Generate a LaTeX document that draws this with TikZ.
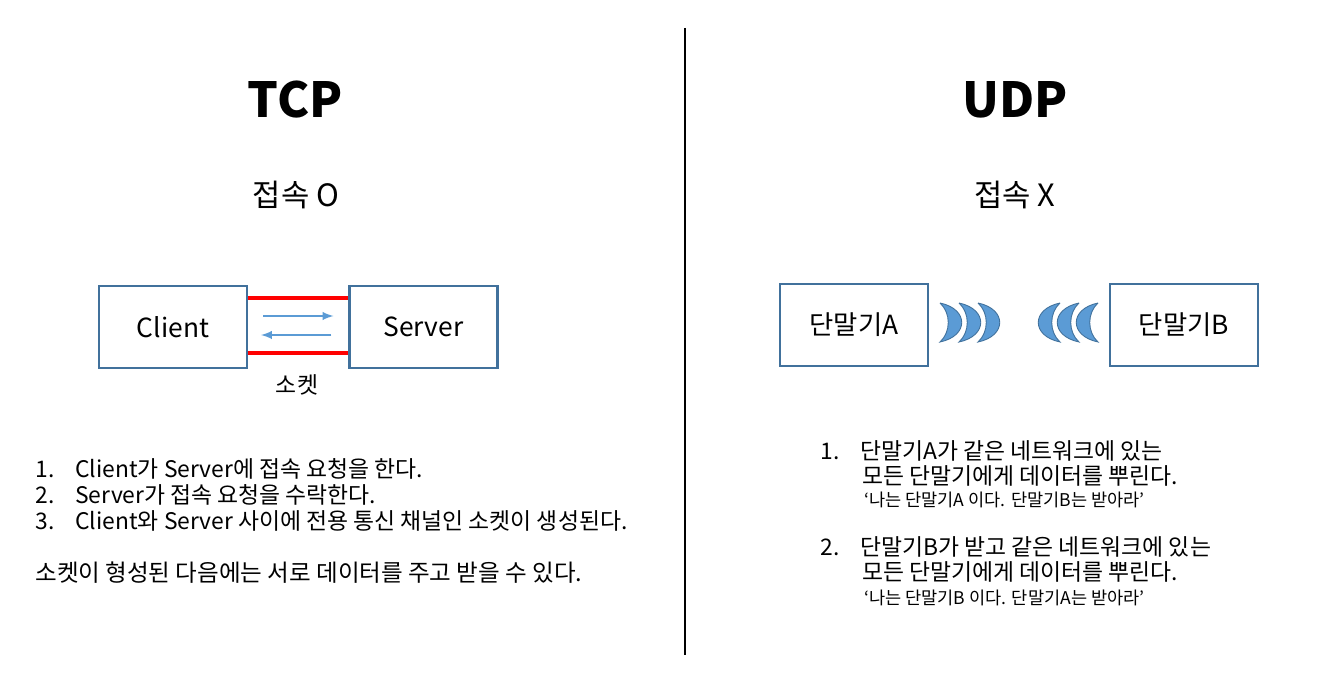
\documentclass[tikz,border=0pt]{standalone}
\usepackage{fontspec}
\setmainfont{Noto Sans CJK KR}
\usepackage{tikz}
\usetikzlibrary{calc,arrows,positioning}
\definecolor{boxLine}{RGB}{65,113,156}
\definecolor{arrowBlue}{RGB}{91,155,213}
\tikzset{
myTitle/.style={
	font=\bfseries\fontsize{27.5}{33}\selectfont
}
, mySub/.style={
	font=\fontsize{17.5}{21}\selectfont
}
, myBox/.style={
	rectangle,draw=boxLine,line width=1.2pt,
	minimum width=2.96cm,minimum height=1.64cm,
	inner sep=0pt,font=\fontsize{15}{18}\selectfont
}
, myText/.style={
	anchor=base west,inner sep=0pt,font=\fontsize{13}{15}\selectfont
}
, mySmall/.style={
	anchor=base west,inner sep=0pt,font=\fontsize{10}{12}\selectfont
}
% links
, mySocket/.style={-,color=red,line width=2.4pt}
, myArrow/.style={-latex,color=arrowBlue,line width=1.1pt}
, myMoon/.style={fill=arrowBlue,draw=boxLine,line width=0.5pt}
}

\begin{document}
\begin{tikzpicture}[x=0.02cm,y=-0.02cm]
	\useasboundingbox (0,0) rectangle (1320,678);
	% divider
	\draw[line width=1.7pt] (685,28) -- (685,655);

	% TCP
	\node[myTitle] (TCP) at (295,100) {TCP};
	\node[mySub] (TcpSub) at (296,195) {접속 O};
	\node[myBox] (Client) at (173,327) {Client};
	\node[myBox] (Server) at (423.5,327) {Server};
	\draw [mySocket] ($(Client.north east)+(0,13)$) -- ($(Server.north west)+(0,13)$);
	\draw [mySocket] ($(Client.south east)+(0,-16)$) -- ($(Server.south west)+(0,-16)$);
	\draw [myArrow] ($(Client.east)+(15,-11)$) -- ($(Server.west)+(-15,-11)$);
	\draw [myArrow] ($(Server.west)+(-17,8)$) -- ($(Client.east)+(13,8)$);
	\node[mySub,font=\fontsize{13}{15}\selectfont] (Socket) at (297,385) {소켓};

	\node[myText] (T1n) at (35,478) {1.};
	\node[myText] (T1) at (75,478) {Client가 Server에 접속 요청을 한다.};
	\node[myText] (T2n) at (35,504) {2.};
	\node[myText] (T2) at (75,504) {Server가 접속 요청을 수락한다.};
	\node[myText] (T3n) at (35,530) {3.};
	\node[myText] (T3) at (75,530) {Client와 Server 사이에 전용 통신 채널인 소켓이 생성된다.};
	\node[myText,font=\fontsize{13.4}{15}\selectfont] (T4) at (35,582) {소켓이 형성된 다음에는 서로 데이터를 주고 받을 수 있다.};

	% UDP
	\node[myTitle] (UDP) at (1015,100) {UDP};
	\node[mySub] (UdpSub) at (1015,195) {접속 X};
	\node[myBox] (TermA) at (854,325) {단말기A};
	\node[myBox] (TermB) at (1184,325) {단말기B};
	\foreach \a in {940,959,978}
		\path[myMoon] (\a,303) .. controls (\a+29,309) and (\a+29,336) .. (\a,342)
			.. controls (\a+11,332) and (\a+11,313) .. (\a,303);
	\foreach \a in {1060,1079,1098}
		\path[myMoon] (\a,303) .. controls (\a-29,309) and (\a-29,336) .. (\a,342)
			.. controls (\a-11,332) and (\a-11,313) .. (\a,303);

	\node[myText] (U1n) at (820,460) {1.};
	\node[myText] (U1) at (860,460) {단말기A가 같은 네트워크에 있는};
	\node[myText] (U1b) at (862,485) {모든 단말기에게 데이터를 뿌린다.};
	\node[mySmall] (U1c) at (864,507) {‘나는 단말기A 이다. 단말기B는 받아라’};
	\node[myText] (U2n) at (820,556) {2.};
	\node[myText] (U2) at (860,556) {단말기B가 받고 같은 네트워크에 있는};
	\node[myText] (U2b) at (862,581) {모든 단말기에게 데이터를 뿌린다.};
	\node[mySmall] (U2c) at (864,605) {‘나는 단말기B 이다. 단말기A는 받아라’};
\end{tikzpicture}
\end{document}
